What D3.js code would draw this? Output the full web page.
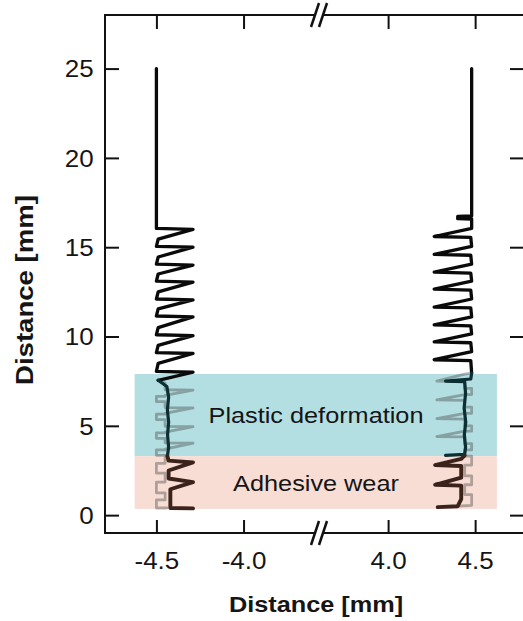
<!DOCTYPE html>
<html>
<head>
<meta charset="utf-8">
<script src="https://cdn.jsdelivr.net/npm/d3@7"></script>
<style>
  body { margin: 0; background: #fff; }
  text { font-family: "Liberation Sans", Arial, sans-serif; fill: #151515; }
</style>
</head>
<body>
<div id="chart"></div>
<script>
// tick values
var yTicks = [0, 5, 10, 15, 20, 25];
var xTicksLeft = [-4.5, -4.0];
var xTicksRight = [4.0, 4.5];

// shaded zones [xFrom, xTo, yFrom, yTo, label]
var zones = [
  [-4.625, 4.625, 3.3, 7.9, "Plastic deformation"],
  [-4.625, 4.625, 0.35, 3.3, "Adhesive wear"]
];

// traces, [x mm, y mm]
var leftMain = [
  [-4.5, 25], [-4.5, 16.35],
  [-4.5, 16.05], [-4.29, 16.0], [-4.49, 15.45],
  [-4.5, 15.05], [-4.29, 15.0], [-4.49, 14.45],
  [-4.5, 14.05], [-4.29, 14.0], [-4.49, 13.5],
  [-4.5, 13.1], [-4.29, 13.05], [-4.49, 12.5],
  [-4.5, 12.1], [-4.29, 12.05], [-4.49, 11.55],
  [-4.5, 11.15], [-4.29, 11.1], [-4.49, 10.5],
  [-4.5, 10.1], [-4.29, 10.05], [-4.49, 9.5],
  [-4.5, 9.1], [-4.29, 9.05], [-4.49, 8.5],
  [-4.5, 8.05], [-4.29, 8.0], [-4.49, 7.55]
];
var leftGhost = [
  [-4.49, 7.55], [-4.45, 7.4], [-4.45, 7.02], [-4.29, 7.0], [-4.45, 6.7],
  [-4.45, 6.65], [-4.5, 6.65], [-4.5, 6.35], [-4.45, 6.35],
  [-4.45, 6.02], [-4.29, 6.0], [-4.45, 5.7],
  [-4.45, 5.65], [-4.5, 5.65], [-4.5, 5.35], [-4.45, 5.35],
  [-4.45, 4.97], [-4.29, 4.95], [-4.45, 4.65],
  [-4.45, 4.6], [-4.5, 4.6], [-4.5, 4.3], [-4.45, 4.3],
  [-4.45, 4.05], [-4.29, 4.03], [-4.45, 3.7],
  [-4.45, 3.65], [-4.5, 3.65], [-4.5, 3.35], [-4.45, 3.35],
  [-4.45, 2.9], [-4.5, 2.9], [-4.5, 2.35], [-4.45, 2.35],
  [-4.45, 1.85], [-4.5, 1.85], [-4.5, 1.25], [-4.45, 1.25],
  [-4.45, 0.85], [-4.5, 0.85], [-4.5, 0.4], [-4.44, 0.4]
];
var leftDark = [
  [-4.49, 7.55], [-4.44, 7.2], [-4.43, 6.6], [-4.437, 5.9], [-4.43, 5.2],
  [-4.436, 4.5], [-4.43, 3.8], [-4.437, 3.3]
];
var leftWorn = [
  [-4.437, 3.3], [-4.43, 3.05], [-4.29, 2.95], [-4.43, 2.5],
  [-4.43, 2.05], [-4.29, 1.85], [-4.42, 1.45],
  [-4.42, 0.4], [-4.29, 0.38]
];

var rightMain = [
  [4.48, 25], [4.48, 16.75], [4.40, 16.72], [4.40, 16.6], [4.48, 16.58],
  [4.48, 16.05], [4.265, 15.6], [4.475, 15.55],
  [4.48, 15.05], [4.265, 14.6], [4.475, 14.55],
  [4.48, 14.05], [4.265, 13.6], [4.475, 13.55],
  [4.48, 13.1], [4.265, 12.65], [4.475, 12.6],
  [4.48, 12.1], [4.265, 11.65], [4.475, 11.6],
  [4.48, 11.1], [4.265, 10.65], [4.475, 10.6],
  [4.48, 10.15], [4.265, 9.7], [4.475, 9.65],
  [4.48, 9.15], [4.265, 8.7], [4.475, 8.65],
  [4.48, 7.95]
];
var rightGhost = [
  [4.48, 7.95], [4.44, 7.9], [4.28, 7.5], [4.44, 7.48],
  [4.44, 7.1], [4.48, 7.1], [4.48, 6.75], [4.44, 6.75],
  [4.28, 6.45], [4.44, 6.43],
  [4.44, 6.05], [4.48, 6.05], [4.48, 5.7], [4.44, 5.7],
  [4.28, 5.4], [4.44, 5.38],
  [4.44, 5.0], [4.48, 5.0], [4.48, 4.7], [4.44, 4.7],
  [4.28, 4.4], [4.44, 4.38],
  [4.44, 4.0], [4.48, 4.0], [4.48, 3.65], [4.44, 3.65],
  [4.44, 3.3], [4.48, 3.3], [4.48, 2.8], [4.44, 2.8],
  [4.44, 2.2], [4.48, 2.2], [4.48, 1.7], [4.44, 1.7],
  [4.44, 1.15], [4.48, 1.15], [4.48, 0.55], [4.40, 0.5]
];
var rightDark = [
  [4.48, 7.95], [4.475, 7.62], [4.33, 7.5], [4.44, 7.48], [4.445, 6.8],
  [4.437, 6.0], [4.446, 5.2], [4.438, 4.5], [4.445, 3.8], [4.44, 3.4],
  [4.33, 3.35]
];
var rightWorn = [
  [4.44, 3.35], [4.42, 3.15], [4.27, 2.8], [4.42, 2.75],
  [4.42, 2.1], [4.27, 1.7], [4.42, 1.65],
  [4.42, 0.9], [4.40, 0.5], [4.285, 0.45]
];

var width = 523, height = 621;
var mLeft = 105, mRight = 523, mTop = 15, mBottom = 533, breakX = 315;

var svg = d3.select('#chart')
  .append('svg')
  .attr('width', width)
  .attr('height', height);

var y = d3.scaleLinear().domain([-1, 28]).range([mBottom, mTop]);
var xL = d3.scaleLinear().domain([-4.795, -3.59]).range([mLeft, breakX]);
var xR = d3.scaleLinear().domain([3.58, 4.775]).range([breakX, mRight]);
function xOf(v) { return v < 0 ? xL(v) : xR(v); }

// zones
var zoneColors = ['#b3dee2', '#f8ddd4'];
zones.forEach(function(z, i) {
  svg.append('rect')
    .attr('x', xOf(z[0]))
    .attr('y', y(z[3]))
    .attr('width', xOf(z[1]) - xOf(z[0]))
    .attr('height', y(z[2]) - y(z[3]))
    .attr('fill', zoneColors[i]);
});

var line = d3.line()
  .x(function(d) { return xOf(d[0]); })
  .y(function(d) { return y(d[1]); });

function trace(data, color, w, op) {
  svg.append('path')
    .attr('d', line(data))
    .attr('fill', 'none')
    .attr('stroke', color)
    .attr('stroke-width', w)
    .attr('stroke-opacity', op)
    .attr('stroke-linejoin', 'round')
    .attr('stroke-linecap', 'round');
}

trace(leftGhost, '#4a4a4a', 2.8, 0.42);
trace(rightGhost, '#4a4a4a', 2.8, 0.42);
trace(leftMain, '#0a0a0a', 3.3, 1);
trace(rightMain, '#0a0a0a', 3.3, 1);
trace(leftDark, '#0b2f33', 3.2, 1);
trace(rightDark, '#0b2f33', 3.2, 1);
trace(leftWorn, '#3b231c', 3.9, 1);
trace(rightWorn, '#3b231c', 3.9, 1);

// zone labels
zones.forEach(function(z) {
  svg.append('text')
    .attr('transform', 'translate(' + (breakX + 1) + ',' + (y((z[2] + z[3]) / 2) + 8) + ') scale(1.15,1)')
    .attr('text-anchor', 'middle')
    .style('font-size', '22px')
    .text(z[4]);
});

// axes
function styleAxis(g) {
  g.select('.domain').remove();
  g.selectAll('.tick line').attr('stroke', '#111').attr('stroke-width', 2);
  g.selectAll('.tick text')
    .style('font-size', '23px')
    .attr('fill', '#151515');
}
function fmt1(d) { return d.toFixed(1); }

var yLeft = svg.append('g')
  .attr('transform', 'translate(' + mLeft + ',0)')
  .call(d3.axisLeft(y).tickValues(yTicks).tickSize(-14).tickPadding(10).tickFormat(d3.format('d')));
styleAxis(yLeft);
yLeft.selectAll('.tick text').attr('transform', 'scale(1.13,1)').attr('dy', '0.36em');

svg.append('g')
  .attr('transform', 'translate(' + mRight + ',0)')
  .call(d3.axisRight(y).tickValues(yTicks).tickSize(-13).tickFormat(''))
  .call(styleAxis);

[[xL, xTicksLeft], [xR, xTicksRight]].forEach(function(p) {
  var gb = svg.append('g')
    .attr('transform', 'translate(0,' + mBottom + ')')
    .call(d3.axisBottom(p[0]).tickValues(p[1]).tickSize(-13).tickPadding(20).tickFormat(fmt1));
  styleAxis(gb);
  gb.selectAll('.tick text').attr('transform', 'scale(1.13,1)');

  svg.append('g')
    .attr('transform', 'translate(0,' + mTop + ')')
    .call(d3.axisTop(p[0]).tickValues(p[1]).tickSize(-14).tickFormat(''))
    .call(styleAxis);
});

// frame
svg.append('path')
  .attr('d', 'M' + mRight + ',' + mTop + 'H' + mLeft + 'V' + mBottom + 'H' + mRight)
  .attr('stroke', '#111').attr('stroke-width', 2).attr('fill', 'none');

// axis breaks
[mTop, mBottom].forEach(function(yy) {
  svg.append('path')
    .attr('d', 'M' + (breakX - 4) + ',' + (yy + 12) + 'L' + (breakX + 4) + ',' + (yy - 12) +
      'L' + (breakX + 12) + ',' + (yy - 12) + 'L' + (breakX + 4) + ',' + (yy + 12) + 'Z')
    .attr('fill', '#fff');
  [0, 8].forEach(function(off) {
    svg.append('line')
      .attr('x1', breakX - 4 + off).attr('y1', yy + 12)
      .attr('x2', breakX + 4 + off).attr('y2', yy - 12)
      .attr('stroke', '#111').attr('stroke-width', 2.5);
  });
});

// axis titles
svg.append('text')
  .attr('transform', 'translate(' + (breakX + 1) + ',612) scale(1.15,1)')
  .attr('text-anchor', 'middle')
  .style('font-size', '22px')
  .style('font-weight', 'bold')
  .text('Distance [mm]');

svg.append('text')
  .attr('transform', 'translate(33,290) rotate(-90) scale(1.2,1)')
  .attr('text-anchor', 'middle')
  .style('font-size', '23px')
  .style('font-weight', 'bold')
  .text('Distance [mm]');
</script>
</body>
</html>
